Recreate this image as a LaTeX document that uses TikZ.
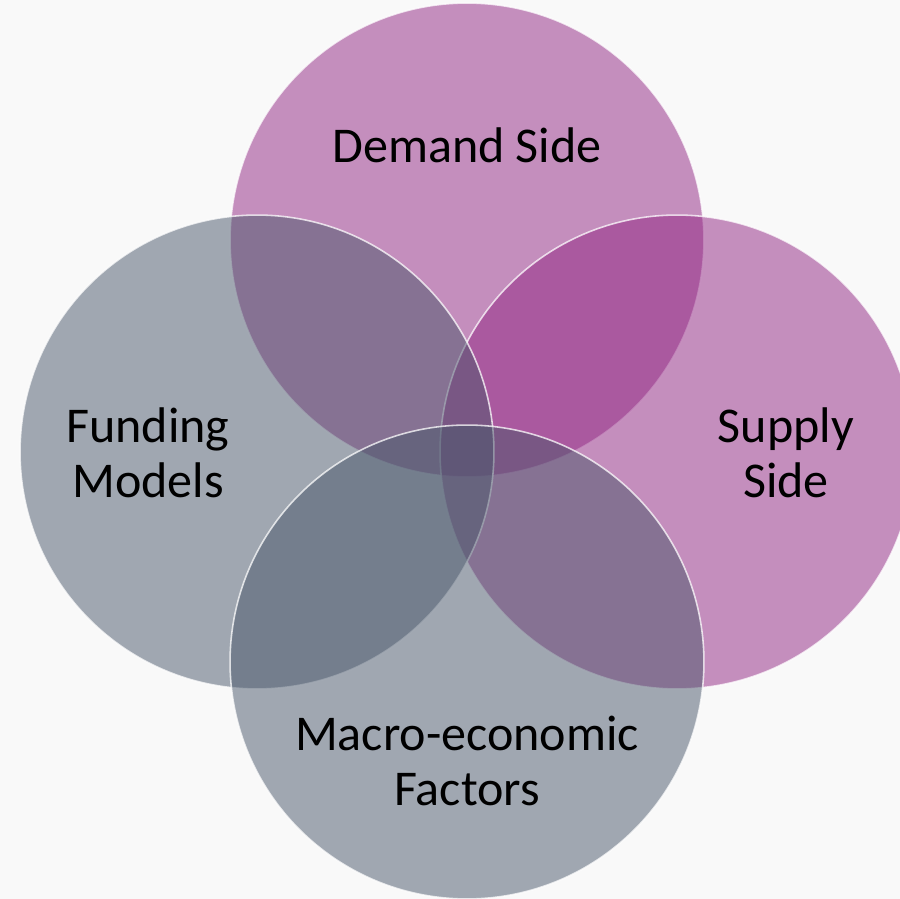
\documentclass[tikz,border=0pt]{standalone}
\usepackage{fontspec}
\setmainfont{Carlito}
\usetikzlibrary{positioning}

\definecolor{bgpaper}{HTML}{F9F9F9}
\definecolor{plum}{RGB}{145,37,131}
\definecolor{slate}{RGB}{73,87,107}

\begin{document}
\begin{tikzpicture}[x=0.02cm,y=-0.02cm,
    area/.style={circle,minimum size=9.48cm,inner sep=0pt,
        fill opacity=0.5,draw=white,draw opacity=0.75,line width=0.9pt},
    label text/.style={font=\fontsize{28.5}{31.5}\selectfont,align=center,text=black}]
    \tikzstyle{pink area}=[area,fill=plum]
    \tikzstyle{grey area}=[area,fill=slate]

    \fill[bgpaper] (0,0) rectangle (900,899);
    \useasboundingbox (0,0) rectangle (900,899);

    \node[pink area] (demand)  at (467,240) {};
    \node[pink area] (supply)  at (677,452) {};
    \node[grey area] (funding) at (257,452) {};
    \node[grey area] (macro)   at (467,662) {};

    \node[label text] (demandtxt)  at (467,145) {Demand Side};
    \node[label text] (supplytxt)  at (786,453) {Supply\\Side};
    \node[label text] (fundingtxt) at (148,453) {Funding\\Models};
    \node[label text] (macrotxt)   at (467,761) {Macro-economic\\Factors};
\end{tikzpicture}
\end{document}
